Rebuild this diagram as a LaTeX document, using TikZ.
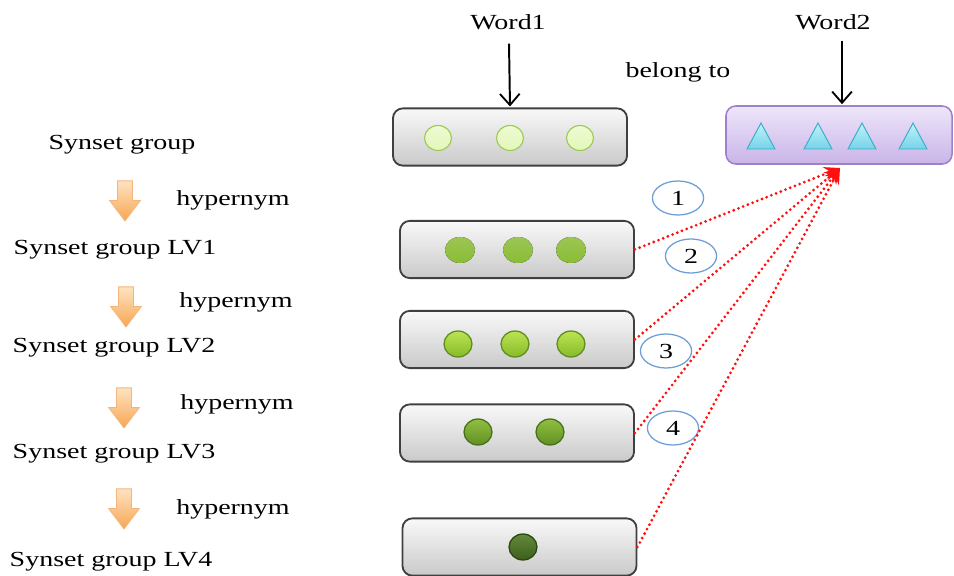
\documentclass[tikz,border=0pt]{standalone}
\usepackage{fontspec}
\setmainfont{Liberation Serif}
\usepackage{graphicx}
\usetikzlibrary{calc,shapes.geometric,shapes.arrows,arrows.meta}

\definecolor{boxline}{HTML}{404040}
\definecolor{purpline}{HTML}{9C82C8}
\definecolor{purptop}{HTML}{EEE6FA}
\definecolor{purpbot}{HTML}{C9B4E8}
\definecolor{tritop}{HTML}{C2F1FA}
\definecolor{tribot}{HTML}{74D3E8}
\definecolor{triline}{HTML}{3AAFC8}
\definecolor{lightdot}{HTML}{E2F7B8}
\definecolor{lightline}{HTML}{9CCB55}
\definecolor{lvone}{HTML}{8ABC36}
\definecolor{lvtwotop}{HTML}{BCE452}
\definecolor{lvtwobot}{HTML}{88BA2A}
\definecolor{lvtwoline}{HTML}{5E8C1E}
\definecolor{lvthreetop}{HTML}{90BF40}
\definecolor{lvthreebot}{HTML}{628F24}
\definecolor{lvthreeline}{HTML}{46701A}
\definecolor{lvfourtop}{HTML}{62893A}
\definecolor{lvfourbot}{HTML}{3E5F1C}
\definecolor{lvfourline}{HTML}{2A4512}
\definecolor{numline}{HTML}{6E9ED8}
\definecolor{hyptop}{HTML}{FDE3C0}
\definecolor{hypbot}{HTML}{F8A653}
\definecolor{hypline}{HTML}{F5B57A}
\definecolor{linkred}{HTML}{FF1010}

\newcommand{\stretchtxt}[1]{\scalebox{1.3}[1]{#1}}

\tikzset{
    txt/.style={font=\fontsize{15.3}{18}\selectfont, inner sep=0pt, anchor=base},
    grpbox/.style={draw=boxline, line width=1.3pt, rounded corners=7pt,
        top color=gray!5, bottom color=gray!42, minimum width=5.85cm, minimum height=1.43cm},
    wordbox/.style={draw=purpline, line width=1.1pt, rounded corners=7pt,
        top color=purptop, bottom color=purpbot, minimum width=5.65cm, minimum height=1.45cm},
    numoval/.style={ellipse, draw=numline, line width=0.9pt, fill=white, inner sep=0pt,
        minimum width=1.28cm, minimum height=0.85cm, font=\fontsize{15.3}{18}\selectfont},
    hyparrow/.style={single arrow, shape border rotate=270, draw=hypline, line width=0.6pt,
        top color=hyptop, bottom color=hypbot, inner sep=0.175cm,
        single arrow head extend=0.2cm, single arrow tip angle=74, minimum height=1cm},
    redlink/.style={linkred, line width=2.2pt, line cap=round, dash pattern=on 0pt off 3.6pt,
        -{Stealth[length=11pt, width=10pt]}},
    wordarrow/.style={-{Straight Barb[length=8pt, width=14pt, line width=1.3pt]}, line width=1.4pt},
    shinydot/.style={line width=0.9pt, draw=#1line, top color=#1top, bottom color=#1bot}
}

\begin{document}
\begin{tikzpicture}[x=0.025cm, y=-0.025cm]
    \useasboundingbox (0,0) rectangle (954,576);

    % left column
    \node[txt] (sg0) at (122,150) {\stretchtxt{Synset group}};
    \node[txt] (sg1) at (115,255) {\stretchtxt{Synset group LV1}};
    \node[txt] (sg2) at (114,353) {\stretchtxt{Synset group LV2}};
    \node[txt] (sg3) at (114,459) {\stretchtxt{Synset group LV3}};
    \node[txt] (sg4) at (111,566) {\stretchtxt{Synset group LV4}};

    \node[hyparrow] (h1) at (125,196) {};
    \node[hyparrow] (h2) at (126,302) {};
    \node[hyparrow] (h3) at (124,403) {};
    \node[hyparrow] (h4) at (124,504) {};
    \node[txt] (hyp1) at (233,206) {\stretchtxt{hypernym}};
    \node[txt] (hyp2) at (236,308) {\stretchtxt{hypernym}};
    \node[txt] (hyp3) at (237,410) {\stretchtxt{hypernym}};
    \node[txt] (hyp4) at (233,515) {\stretchtxt{hypernym}};

    % words
    \node[txt] (word1) at (508,30) {\stretchtxt{Word1}};
    \node[txt] (word2) at (833,30) {\stretchtxt{Word2}};
    \node[txt] (belong) at (678,78) {\stretchtxt{belong to}};

    \node[grpbox] (w1box) at (510,137) {};
    \node[wordbox] (w2box) at (839,135) {};
    \node[grpbox] (lv1) at (517,249.5) {};
    \node[grpbox] (lv2) at (517,339.5) {};
    \node[grpbox] (lv3) at (517,433) {};
    \node[grpbox] (lv4) at (519.5,547) {};

    \draw[wordarrow] ($(word1.south)+(1,13)$) -- ($(w1box.north)+(0,-1)$);
    \draw[wordarrow] ($(word2.south)+(9,10)$) -- ($(word2.south |- w2box.north)+(9,-1)$);

    % dots and triangles
    \foreach \x in {438,510,580}
        \draw[draw=lightline, line width=0.8pt, top color=lightdot!60!white, bottom color=lightdot]
            (\x,138) ellipse [x radius=13.5, y radius=12.5];
    \foreach \x in {761,818,862,913}
        \draw[draw=triline, line width=0.7pt, top color=tritop, bottom color=tribot]
            (\x-14,149) -- (\x,123) -- (\x+14,149) -- cycle;
    \foreach \x in {460,518,571}
        \fill[top color=lvone!85!white, bottom color=lvone] (\x,250) ellipse [x radius=15, y radius=13];
    \foreach \x in {458,515,571}
        \draw[shinydot=lvtwo] (\x,344) ellipse [x radius=14, y radius=13];
    \foreach \x in {478,550}
        \draw[shinydot=lvthree] (\x,432) ellipse [x radius=14, y radius=13];
    \draw[shinydot=lvfour] (523,547) ellipse [x radius=14, y radius=13];

    % numbered links
    \node[numoval] (n1) at (678,198) {\stretchtxt{1}};
    \node[numoval] (n2) at (691,256) {\stretchtxt{2}};
    \node[numoval] (n3) at (666,351) {\stretchtxt{3}};
    \node[numoval] (n4) at (673,428) {\stretchtxt{4}};

    \coordinate (tip) at (840,168);
    \foreach \g in {lv1,lv2,lv3,lv4}
        \draw[redlink] (\g.east) -- (tip);
\end{tikzpicture}
\end{document}
